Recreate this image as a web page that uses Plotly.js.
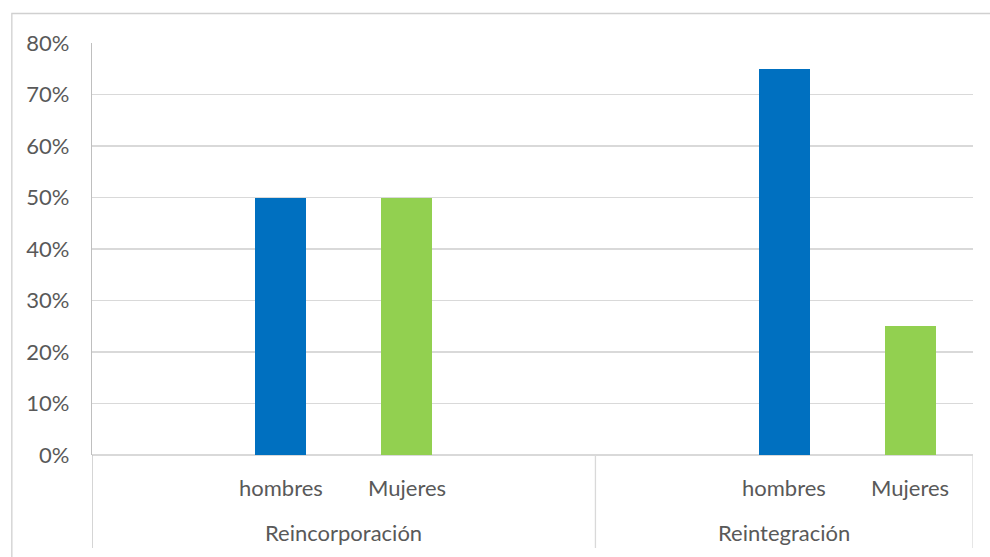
<!DOCTYPE html>
<html>
<head>
<meta charset="utf-8">
<script src="https://cdn.plot.ly/plotly-3.0.1.min.js"></script>
<style>html,body{margin:0;padding:0;background:#fff;}#chart{width:990px;height:557px;}</style>
</head>
<body>
<div id="chart"></div>
<script>
// Category slots along the axis (Excel multi-level axis with empty slots)
const subLabels = ["", "hombres", "Mujeres", "", "", "hombres", "Mujeres"];
const groupOfSlot = ["Reincorporación", "Reincorporación", "Reincorporación", "Reincorporación",
                     "Reintegración", "Reintegración", "Reintegración"];
const groups = ["Reincorporación", "Reintegración"];
const values = [null, 0.50, 0.50, null, null, 0.75, 0.25];
const yTicks = [0, 0.1, 0.2, 0.3, 0.4, 0.5, 0.6, 0.7, 0.8];

const colorFor = {"hombres": "#0070C0", "Mujeres": "#92D050", "": "#0070C0"};
const textColor = "#595959";
const fontFamily = "Lato, 'Open Sans', sans-serif";

const slotX = subLabels.map((_, i) => i);

const trace = {
  type: "bar",
  x: slotX,
  y: values,
  width: 0.405,
  marker: {color: subLabels.map(l => colorFor[l])},
  hoverinfo: "skip"
};

const annotations = [];
subLabels.forEach((lab, i) => {
  if (lab) annotations.push({
    x: i, y: -0.08, xref: "x", yref: "paper", text: lab, showarrow: false,
    font: {family: fontFamily, size: 22, color: textColor}, xanchor: "center", yanchor: "middle"
  });
});
groups.forEach(g => {
  const idx = groupOfSlot.map((gg, i) => gg === g ? i : null).filter(v => v !== null);
  const center = (idx[0] + idx[idx.length - 1]) / 2;
  annotations.push({
    x: center, y: -0.189, xref: "x", yref: "paper", text: g, showarrow: false,
    font: {family: fontFamily, size: 22, color: textColor}, xanchor: "center", yanchor: "middle"
  });
});

// separators between groups
const seps = [-0.5];
groups.forEach(g => {
  const idx = groupOfSlot.map((gg, i) => gg === g ? i : null).filter(v => v !== null);
  seps.push(idx[idx.length - 1] + 0.5);
});
const shapes = seps.map(s => ({
  type: "line", xref: "x", yref: "paper", x0: s, x1: s, y0: 0, y1: -0.2257,
  line: {color: s === -0.5 ? "#bfbfbf" : "#d9d9d9", width: 1.3}
}));
shapes.push({
  type: "rect", xref: "paper", yref: "paper", x0: -0.091, x1: 1.03, y0: -0.27, y1: 1.0716,
  line: {color: "#d0d0d0", width: 1.3}, fillcolor: "rgba(0,0,0,0)"
});

const layout = {
  width: 990, height: 557,
  margin: {l: 92, r: 17, t: 43, b: 102},
  paper_bgcolor: "#ffffff", plot_bgcolor: "#ffffff",
  showlegend: false,
  bargap: 0,
  xaxis: {
    range: [-0.5, slotX.length - 0.5], showticklabels: false, showgrid: false,
    zeroline: false, showline: false, fixedrange: true
  },
  yaxis: {
    range: [0, 0.8], tickvals: yTicks, tickformat: ".0%",
    showgrid: true, gridcolor: "#d9d9d9", gridwidth: 1.3,
    zeroline: true, zerolinecolor: "#d9d9d9", zerolinewidth: 1.3,
    showline: true, linecolor: "#bfbfbf", linewidth: 1.3,
    ticks: "", ticklabelstandoff: 17,
    tickfont: {family: fontFamily, size: 22, color: textColor}
  },
  annotations: annotations,
  shapes: shapes
};

Plotly.newPlot("chart", [trace], layout, {displayModeBar: false, staticPlot: true});
</script>
</body>
</html>
